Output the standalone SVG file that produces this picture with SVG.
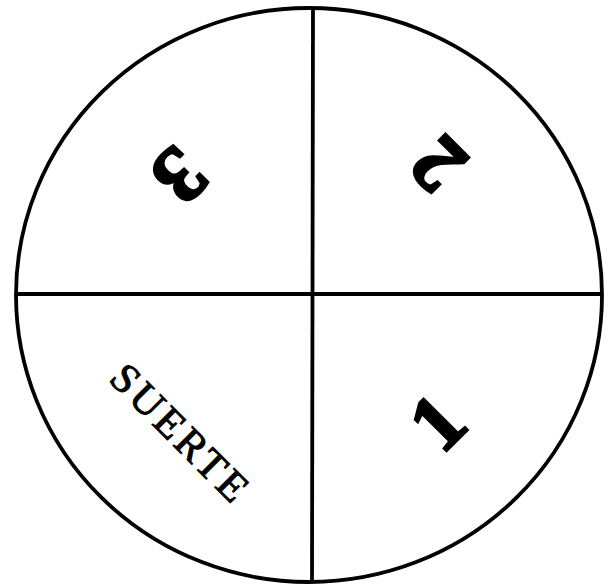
<svg xmlns="http://www.w3.org/2000/svg" width="610" height="586" viewBox="0 0 610 586">
<style>
.ln{fill:none;stroke:#000;stroke-width:3.8}
.num{font-family:"Liberation Serif","DejaVu Serif",serif;font-weight:bold;font-size:80px;fill:#000;stroke:#000;stroke-width:3;text-anchor:middle}
.lbl{font-family:"Liberation Serif","DejaVu Serif",serif;font-size:42px;letter-spacing:4px;fill:#000;stroke:#000;stroke-width:1;text-anchor:middle}
</style>
<rect width="610" height="586" fill="#fff"/>
<g id="wheel">
<ellipse class="ln" cx="309" cy="295" rx="293" ry="287"/>
<line class="ln" x1="313" y1="8" x2="312" y2="582"/>
<line class="ln" x1="16" y1="294" x2="603" y2="294"/>
</g>
<g id="q3"><text class="num" transform="translate(180,176) rotate(135)" y="27">3</text></g>
<g id="q2"><text class="num" transform="translate(438,165) rotate(-135)" y="27">2</text></g>
<g id="q1"><text class="num" transform="translate(437,422) rotate(-45)" y="27">1</text></g>
<g id="suerte"><text class="lbl" transform="translate(181,434) rotate(45)" y="14">SUERTE</text></g>
</svg>
